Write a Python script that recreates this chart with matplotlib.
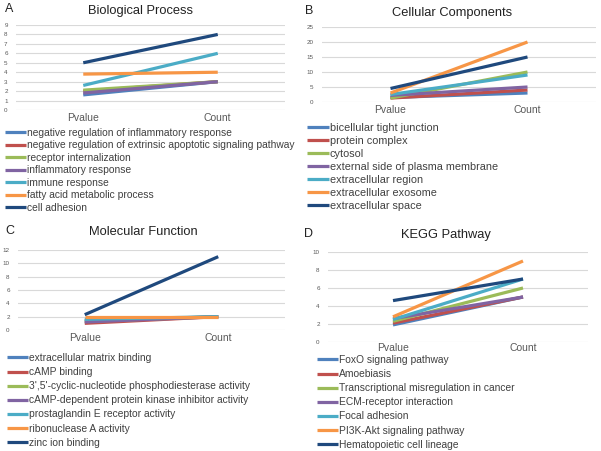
import matplotlib
matplotlib.use('Agg')
import matplotlib.pyplot as plt

plt.rcParams['font.family'] = ['Liberation Sans', 'DejaVu Sans']

# Excel 2010 palette
colors = ['#4F81BD', '#C0504D', '#9BBB59', '#8064A2', '#4BACC6', '#F79646', '#1F497D']
cats = ['Pvalue', 'Count']

bp_terms = ['negative regulation of inflammatory response',
            'negative regulation of extrinsic apoptotic signaling pathway',
            'receptor internalization',
            'inflammatory response',
            'immune response',
            'fatty acid metabolic process',
            'cell adhesion']
bp_pvalue = [1.6, 2.0, 2.1, 1.8, 2.6, 3.8, 5.0]
bp_count = [3, 3, 3, 3, 6, 4, 8]

cc_terms = ['bicellular tight junction',
            'protein complex',
            'cytosol',
            'external side of plasma membrane',
            'extracellular region',
            'extracellular exosome',
            'extracellular space']
cc_pvalue = [1.5, 1.3, 1.3, 2.2, 2.5, 3.0, 4.5]
cc_count = [3, 4, 10, 5, 9, 20, 15]

mf_terms = ['extracellular matrix binding',
            'cAMP binding',
            "3',5'-cyclic-nucleotide phosphodiesterase activity",
            'cAMP-dependent protein kinase inhibitor activity',
            'prostaglandin E receptor activity',
            'ribonuclease A activity',
            'zinc ion binding']
mf_pvalue = [1.4, 1.0, 1.3, 1.2, 1.6, 2.0, 2.3]
mf_count = [2, 2, 2, 2, 2, 2, 11]

kegg_terms = ['FoxO signaling pathway',
              'Amoebiasis',
              'Transcriptional misregulation in cancer',
              'ECM-receptor interaction',
              'Focal adhesion',
              'PI3K-Akt signaling pathway',
              'Hematopoietic cell lineage']
kegg_pvalue = [1.9, 2.1, 2.3, 2.6, 2.5, 2.8, 4.6]
kegg_count = [5, 5, 6, 5, 7, 9, 7]

W, H = 601, 451
fig = plt.figure(figsize=(W / 100, H / 100), dpi=100)


def px(x0, y0, x1, y1):
    # pixel box (left, top, right, bottom) -> figure fraction rect
    return [x0 / W, 1 - y1 / H, (x1 - x0) / W, (y1 - y0) / H]


def panel(rect, letter, lpos, title, tpos, terms, pv, ct, ymax, ystep,
          leg_xy, leg_fs, leg_space, xpad=2):
    ax = fig.add_axes(px(*rect))
    for i in range(len(terms)):
        ax.plot([0, 1], [pv[i], ct[i]], color=colors[i], lw=2.3,
                solid_capstyle='butt', label=terms[i])
    ax.set_xlim(-0.5, 1.5)
    ax.set_ylim(0, ymax)
    ax.set_yticks(range(0, ymax + 1, ystep))
    ax.set_xticks([0, 1])
    ax.set_xticklabels(cats)
    ax.grid(axis='y', color='#d9d9d9', lw=0.8)
    ax.set_axisbelow(True)
    for s in ax.spines.values():
        s.set_visible(False)
    ax.tick_params(axis='y', length=0, labelsize=4.5, labelcolor='#595959', pad=6)
    ax.tick_params(axis='x', length=0, labelsize=7.5, labelcolor='#595959', pad=xpad)
    fig.text(lpos[0] / W, 1 - lpos[1] / H, letter, fontsize=9, color='#222222',
             ha='left', va='center')
    fig.text(tpos[0] / W, 1 - tpos[1] / H, title, fontsize=9.3, color='#222222',
             ha='center', va='center')
    fig.legend(handles=ax.get_lines(), loc='upper left',
               bbox_to_anchor=(leg_xy[0] / W, 1 - leg_xy[1] / H),
               frameon=False, fontsize=leg_fs, handlelength=2.0, handletextpad=0.1,
               labelspacing=leg_space, borderpad=0, borderaxespad=0,
               labelcolor='#404040')
    return ax


panel((16, 25, 285, 110), 'A', (5, 9), 'Biological Process', (140, 11),
      bp_terms, bp_pvalue, bp_count, 9, 1, (5, 128), 7.4, 0.24)
panel((322, 27, 596, 102), 'B', (305, 11), 'Cellular Components', (452, 13),
      cc_terms, cc_pvalue, cc_count, 25, 5, (307, 123), 7.8, 0.28)
panel((18, 250, 285, 330), 'C', (5, 231), 'Molecular Function', (143, 232),
      mf_terms, mf_pvalue, mf_count, 12, 2, (7, 353), 7.4, 0.4)
panel((328, 252, 588, 342), 'D', (304, 234), 'KEGG Pathway', (446, 235),
      kegg_terms, kegg_pvalue, kegg_count, 10, 2, (317, 355), 7.4, 0.4, xpad=0.5)

fig.savefig('out.png', dpi=100, facecolor='white')
